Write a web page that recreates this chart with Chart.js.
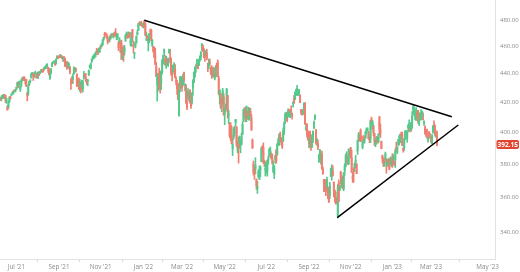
<!DOCTYPE html>
<html>
<head>
<meta charset="utf-8">
<script src="https://cdn.jsdelivr.net/npm/chart.js@4.4.1/dist/chart.umd.min.js"></script>
<style>
  html, body { margin: 0; padding: 0; background: #fff; }
  #wrap { width: 520px; height: 272px; }
</style>
</head>
<body>
<div id="wrap"><canvas id="spyChart" width="520" height="272"></canvas></div>
<script>
// ================= DATA =================
// daily candles, one per trading day, Jun 9 2021 .. Mar 9 2023 (x = bar index)

const opens = [
  423.2,422.9,424.2,424.4,425.4,424.6,421.7,417.1,416.8,420.9,423.2,424.9,425.9,427.2,427.9,427.2,
  428.9,431.7,433.8,433.7,428.8,432.5,435.4,436.2,437.4,436.0,436.0,426.2,425.7,432.3,434.7,437.5,439.3,439.9,439.7,439.8,437.9,
  440.3,438.4,439.8,440.2,442.1,442.5,443.1,443.8,443.6,445.6,444.5,444.2,442.9,436.3,440.2,445.2,447.9,448.2,448.6,447.1,450.9,452.1,
  452.6,453.3,451.9,452.7,450.9,450.7,451.0,448.6,448.1,444.6,446.3,444.9,434.9,436.5,436.1,439.9,441.4,442.8,439.7,435.2,436.0,
  430.9,433.0,430.2,429.3,437.0,439.5,437.2,435.7,434.7,439.1,444.8,443.97,448.9,451.1,451.8,453.1,454.3,457.4,456.5,455.5,455.9,
  460.3,460.2,461.3,465.4,469.3,469.7,469.0,465.6,465.2,465.1,468.6,467.2,469.0,469.2,470.0,470.9,467.2,466.1,462.3,464.1,462.0,
  461.6,450.7,459.2,456.1,464.4,468.7,468.2,469.2,470.2,463.1,463.4,472.6,461.6,454.5,460.0,462.8,468.8,472.1,477.7,476.9,477.9,475.6,
  476.3,479.2,477.2,467.9,467.9,462.7,465.2,471.6,472.2,461.2,459.7,458.1,453.8,445.6,432.0,433.1,440.7,438.3,432.7,441.2,
  450.7,455.5,450.9,446.0,449.5,446.7,455.2,451.3,449.4,439.9,443.7,443.9,443.2,435.0,431.9,432.7,411.0,429.6,432.0,
  435.0,432.4,440.5,431.8,431.6,419.6,425.1,422.5,428.1,420.9,419.8,429.9,433.6,438.0,444.3,445.9,446.9,445.9,451.2,452.1,460.0,460.3,458.0,
  453.3,453.1,455.2,446.9,445.6,447.97,444.1,443.1,438.0,443.6,436.8,437.9,446.9,448.5,436.9,423.7,425.8,417.2,422.3,423.6,
  412.1,415.0,417.1,424.6,411.1,405.1,404.5,398.1,389.4,396.7,399.98,406.5,403.5,388.6,393.3,392.8,392.6,392.3,398.7,407.9,413.6,
  415.2,409.4,412.4,414.8,408.1,413.9,409.3,394.9,379.9,376.9,377.0,370.5,365.5,371.9,370.6,376.6,381.4,391.1,390.2,381.2,376.2,
  376.6,375.9,382.1,385.1,385.0,385.9,383.6,375.1,373.6,382.6,388.4,386.1,392.5,394.2,398.9,396.5,393.8,394.4,401.9,407.6,
  409.2,409.1,410.3,414.4,409.7,415.3,412.2,418.8,422.99,422.0,424.8,429.0,424.8,425.5,424.98,415.0,412.9,412.9,415.2,419.4,402.2,405.1,399.9,
  392.9,400.3,393.1,390.4,395.3,402.7,408.8,401.8,394.5,392.96,381.2,382.3,382.3,386.1,376.6,370.6,366.4,367.8,364.4,366.0,361.8,
  361.1,372.4,373.2,375.6,368.97,363.96,358.2,358.2,349.2,368.6,364.0,375.1,367.8,368.0,365.1,375.9,378.8,381.6,383.1,379.9,386.4,
  390.1,383.9,372.4,377.0,377.7,381.1,379.9,388.1,395.6,396.7,401.2,396.6,390.5,397.7,394.6,396.6,399.6,401.8,399.1,396.1,395.5,
  408.8,402.3,403.9,399.4,392.9,395.1,393.9,394.1,410.2,401.6,394.3,385.2,383.5,379.2,383.3,383.0,379.7,382.8,381.6,379.6,380.6,
  384.4,383.2,381.7,382.6,390.4,387.3,392.2,396.7,393.6,398.5,399.0,389.4,390.1,396.7,398.9,395.9,403.1,402.8,402.9,401.1,
  405.2,414.9,411.6,409.8,408.9,413.1,414.4,405.9,408.7,411.2,410.4,408.8,406.1,403.1,399.5,401.6,395.4,399.9,397.2,
  395.4,392.7,399.7,405.0,404.4,398.4,399.7
];

const highs = [
  423.3,424.6,424.4,425.4,425.5,424.9,423.0,417.8,421.1,424.0,424.1,425.6,427.1,427.7,428.6,428.8,
  430.6,434.1,434.0,434.8,431.7,435.8,437.2,437.8,437.9,436.1,436.1,427.1,432.4,434.7,435.7,440.3,441.0,439.9,440.8,441.8,440.1,
  440.9,441.3,441.1,441.9,442.9,442.8,443.4,444.0,445.3,445.9,447.1,444.6,443.9,441.0,443.7,448.2,448.5,449.5,448.9,450.7,453.1,452.3,
  453.1,453.6,453.6,453.0,451.6,452.6,451.5,448.9,448.9,448.4,447.7,445.4,436.6,437.9,440.0,444.9,444.5,444.0,440.0,435.7,437.0,
  436.0,433.96,435.5,435.1,441.7,439.9,440.3,436.1,436.0,442.7,446.3,447.6,450.7,452.7,453.8,454.7,455.9,458.5,457.2,458.4,459.4,
  460.7,462.0,465.2,467.0,470.7,470.2,469.6,467.4,465.7,467.4,468.8,469.6,469.2,470.0,470.8,473.5,469.6,469.6,463.9,466.6,464.0,
  464.7,459.1,460.3,460.8,468.9,470.9,469.6,470.9,470.6,465.7,470.9,472.9,464.0,455.3,463.2,467.8,472.2,477.3,478.8,478.6,479.0,476.9,
  477.9,480.0,477.9,470.8,468.2,465.7,469.9,473.2,472.9,465.1,459.96,459.6,458.6,448.1,440.4,439.7,444.0,441.6,442.0,450.3,
  453.6,458.1,452.97,452.8,450.99,451.3,457.9,457.7,451.6,443.5,446.3,448.1,446.6,437.8,435.5,433.3,428.8,437.8,438.2,
  437.2,439.7,441.1,433.0,432.3,425.0,429.5,426.4,428.8,424.6,426.8,435.7,441.1,444.9,446.5,450.6,447.1,450.6,453.0,455.9,462.1,461.2,458.8,
  453.5,456.9,457.8,447.6,450.7,450.6,445.0,445.8,444.1,444.7,439.8,445.8,447.6,450.0,438.1,428.7,426.0,422.9,429.7,425.9,
  415.9,418.9,429.7,425.0,414.8,406.4,406.4,404.0,395.8,403.2,403.97,408.6,403.8,394.1,397.0,397.7,395.2,399.5,407.0,415.4,416.5,
  416.2,417.4,414.0,416.6,416.3,415.8,411.7,395.8,381.8,377.9,383.9,370.9,369.4,376.5,378.8,378.8,390.1,391.4,393.2,382.3,380.7,
  381.7,382.4,385.0,389.8,390.6,386.9,386.2,381.9,379.1,385.3,389.1,392.9,396.3,399.0,400.2,396.5,394.1,402.9,407.0,413.0,
  413.4,413.0,415.7,415.1,414.2,417.6,412.8,420.4,424.9,427.2,429.1,431.7,428.9,428.9,425.0,415.1,415.2,415.0,419.6,419.9,405.8,405.8,401.2,
  396.8,400.9,395.2,398.6,401.0,407.5,411.7,401.8,396.0,395.0,386.0,389.1,386.1,388.0,378.0,370.6,370.3,370.4,372.0,366.1,365.3,
  368.8,377.5,379.5,378.8,368.97,364.2,363.0,359.8,367.5,370.3,367.0,375.5,371.8,372.7,374.8,380.1,386.3,387.6,385.0,389.5,388.4,
  390.4,388.6,375.1,377.6,380.6,385.3,380.2,395.0,400.0,399.0,402.3,397.8,394.9,397.8,396.6,400.8,402.9,403.0,400.8,397.3,407.7,
  410.0,407.9,404.9,399.4,395.6,397.3,397.3,399.0,410.5,405.5,394.3,385.5,383.8,383.2,387.4,383.0,383.0,383.2,383.4,384.4,383.0,
  386.4,385.9,381.8,389.3,393.7,390.7,395.6,398.0,399.1,400.2,400.1,390.4,396.0,401.1,401.3,400.7,404.9,408.2,405.1,406.5,
  413.7,418.3,416.97,411.3,416.5,414.5,414.6,408.4,412.97,415.1,414.1,412.9,407.5,404.2,401.1,402.2,397.3,400.7,399.3,
  396.7,398.7,404.5,407.5,404.8,399.7,401.0
];

const lows = [
  421.4,421.0,422.8,422.5,423.1,419.9,419.3,414.7,415.9,419.9,422.4,424.6,425.6,425.6,427.2,427.2,
  428.8,430.5,430.0,431.8,427.5,430.7,434.8,435.3,434.9,432.7,430.9,421.0,424.8,431.6,433.5,436.8,438.9,435.2,437.2,439.8,436.8,
  436.9,436.6,438.9,440.1,441.3,441.0,441.1,442.6,443.4,445.0,443.7,440.9,439.1,436.1,439.8,445.2,447.5,447.7,446.2,446.9,450.7,450.9,
  451.5,451.8,451.6,450.7,448.8,448.9,445.3,444.9,443.0,444.1,443.4,439.9,428.9,432.9,433.1,439.6,441.0,441.2,430.9,431.3,428.8,
  427.5,426.4,429.4,427.0,436.1,437.3,434.7,432.3,431.5,438.7,444.1,443.3,448.1,450.1,451.0,451.3,452.4,455.2,453.8,455.3,455.5,
  458.2,459.5,460.8,464.5,466.3,468.2,465.9,461.8,463.3,463.3,465.3,466.4,467.7,466.3,467.7,467.4,464.9,465.2,456.8,461.7,455.3,
  450.3,450.4,448.9,453.6,463.6,466.8,466.0,466.8,466.4,460.4,460.0,463.7,455.3,451.0,458.8,462.3,468.5,472.0,476.1,475.9,475.9,474.7,
  473.9,474.7,468.3,464.4,464.3,456.6,462.6,468.6,463.9,459.7,455.6,451.5,446.6,437.9,420.8,427.9,428.9,426.4,428.8,439.8,
  446.9,453.2,446.0,443.8,445.9,445.3,455.0,447.9,438.9,434.8,441.2,439.6,437.0,432.0,425.4,421.8,410.6,427.1,430.7,
  427.7,431.3,433.8,427.9,419.4,415.1,422.8,420.8,419.5,415.8,418.8,425.0,433.6,437.4,441.0,445.8,443.5,445.8,448.9,450.0,456.9,456.1,451.6,
  448.9,452.3,450.0,441.4,443.5,445.9,439.4,436.6,437.8,437.7,435.6,437.7,443.7,437.8,425.4,418.8,416.0,413.7,418.8,411.2,
  405.0,413.9,415.6,409.4,405.7,396.5,394.8,392.6,385.2,395.6,397.6,404.0,390.6,386.96,380.5,390.2,386.9,391.8,398.4,407.0,410.0,
  406.9,407.0,408.6,408.6,407.9,410.4,401.4,389.8,373.3,370.6,374.0,364.6,362.2,371.9,370.6,372.2,381.4,387.0,380.4,378.4,372.6,
  374.3,372.5,379.8,385.0,383.9,382.9,379.7,374.8,371.0,380.3,380.5,385.3,391.6,391.6,393.7,392.0,389.6,394.2,398.7,405.8,
  408.2,406.9,410.1,412.4,409.6,411.4,408.7,416.7,419.2,421.9,424.7,426.8,424.8,425.4,419.8,411.8,411.4,411.6,414.9,405.3,401.2,396.9,395.0,
  390.1,390.0,388.4,390.3,393.3,402.4,408.1,392.4,391.6,388.9,381.1,382.1,379.8,376.7,373.6,363.3,363.4,360.9,363.8,359.2,357.0,
  359.2,372.3,370.1,372.6,360.2,357.1,355.9,356.3,348.1,357.3,364.0,367.6,365.7,364.8,363.8,373.1,378.2,381.4,379.7,379.7,385.3,
  383.5,374.8,368.8,368.8,375.2,377.7,374.0,385.9,394.1,394.4,394.0,394.8,389.4,393.2,393.0,396.1,399.2,401.1,395.6,393.3,393.4,
  404.7,401.9,397.9,391.6,390.8,392.3,393.3,393.1,398.3,396.6,389.5,381.0,378.4,378.5,382.9,374.3,378.4,379.2,376.4,379.4,378.5,
  377.8,380.0,378.8,377.8,387.7,386.4,391.4,391.9,393.3,396.3,391.5,387.3,388.4,395.3,397.6,393.6,400.3,402.5,400.3,400.8,
  402.6,412.9,411.1,408.1,407.6,409.9,405.8,404.4,408.3,408.0,409.4,408.1,404.5,398.8,397.0,396.3,393.6,396.9,396.2,
  393.4,392.6,399.6,404.4,397.6,396.8,391.3
];

const closes = [
  421.6,423.6,424.3,425.3,424.5,422.1,422.0,414.9,420.9,423.1,422.6,425.1,426.6,427.5,427.7,428.1,
  430.4,433.7,432.9,434.5,430.9,435.5,437.1,435.6,436.2,434.8,431.3,425.0,431.1,434.6,435.5,439.9,441.0,439.0,438.8,440.6,438.5,
  437.6,441.2,439.0,441.8,442.5,442.1,442.7,443.8,445.1,445.9,447.0,444.0,439.2,439.9,443.4,447.3,448.0,448.9,446.3,450.3,452.2,451.6,
  451.8,453.2,453.1,451.5,450.9,449.0,445.4,446.6,444.2,447.9,447.2,441.4,434.0,433.6,437.9,443.2,443.9,442.6,431.3,432.0,429.1,
  434.2,428.6,433.1,434.9,438.7,437.9,434.7,433.6,435.2,442.5,445.9,447.2,450.6,452.4,453.6,453.1,455.6,456.0,453.9,458.3,459.3,
  460.0,461.9,464.7,466.9,468.5,468.9,467.4,463.6,463.8,467.3,467.4,469.3,468.1,469.7,468.9,467.6,468.2,469.4,459.0,464.6,455.6,
  450.5,457.4,453.4,458.8,468.3,469.5,466.4,470.7,466.6,463.4,470.6,466.5,459.9,455.0,463.1,467.7,470.6,477.3,476.9,477.5,476.2,475.0,
  477.7,477.6,468.4,467.9,466.1,465.5,469.8,471.0,464.5,464.7,456.5,451.8,446.8,438.0,439.8,434.5,433.4,431.2,442.0,449.9,
  453.0,457.4,446.6,448.7,447.3,450.9,457.5,449.3,440.5,439.0,446.1,446.6,437.1,434.2,429.6,422.0,428.3,437.8,436.6,
  430.0,437.9,435.7,432.2,419.4,416.3,427.4,425.5,420.1,417.0,426.2,435.6,441.1,444.5,444.4,449.6,443.8,450.5,452.7,455.9,461.6,458.7,451.6,
  452.9,456.8,451.0,446.5,448.8,447.6,439.9,438.3,443.3,437.8,438.0,445.0,444.7,438.1,426.0,428.5,416.1,417.3,427.8,412.0,
  414.5,416.4,429.1,413.8,411.3,398.2,399.1,392.8,392.3,401.7,400.1,408.3,391.9,389.5,389.6,396.9,393.9,397.4,405.3,415.3,412.9,
  409.6,417.4,410.5,411.8,415.7,411.2,401.4,389.8,375.0,373.9,379.2,366.7,365.9,375.1,374.4,378.1,390.1,388.6,380.7,380.3,377.3,
  381.2,382.0,383.3,389.0,388.7,384.2,380.8,378.8,377.9,385.1,382.0,392.3,394.8,398.8,395.1,395.6,390.9,401.0,406.1,412.0,
  410.8,408.1,414.5,414.2,413.5,413.0,411.4,420.0,420.0,427.1,428.9,429.7,426.7,427.9,420.0,413.4,412.4,413.7,419.5,405.3,402.6,398.2,395.2,
  396.4,392.2,390.8,397.8,400.4,406.6,411.0,393.1,394.6,390.1,385.6,388.6,384.1,377.4,374.2,368.0,364.3,363.4,370.5,362.8,357.2,
  366.6,377.1,377.0,373.2,362.8,360.0,357.7,356.6,366.0,357.6,366.8,371.1,368.5,365.4,374.3,378.9,384.9,382.0,380.0,389.0,386.2,
  384.5,374.9,371.0,376.4,380.0,382.0,374.1,394.7,398.5,395.1,398.5,395.5,394.2,396.0,394.6,400.2,402.4,402.3,395.9,395.2,407.7,
  407.4,406.9,399.6,393.8,393.2,396.2,393.3,399.0,402.0,399.4,389.6,383.3,380.0,380.5,386.2,380.7,382.9,381.4,376.7,383.4,382.4,
  380.8,383.8,379.4,388.1,387.9,390.6,395.5,397.0,398.5,397.8,391.5,388.6,395.9,400.6,400.2,400.4,404.8,405.7,400.6,406.5,
  410.8,416.8,412.4,409.8,415.2,410.7,407.1,408.0,412.8,412.6,414.0,408.3,407.3,399.1,398.5,400.7,396.4,397.7,396.3,
  394.7,397.8,404.2,404.5,398.3,399.0,392.15
];

// month ticks (bar index of first trading day of the month)
const xTickIdx = [16, 59, 101, 144, 183, 226, 268, 311, 353, 395, 434, 491];
const xTickLabels = ["Jul '21", "Sep '21", "Nov '21", "Jan '22", "Mar '22", "May '22",
                     "Jul '22", "Sep '22", "Nov '22", "Jan '23", "Mar '23", "May '23"];
const yTicks = [340, 360, 380, 400, 420, 440, 460, 480];

// hand drawn triangle (bar index, price)
const upperLine = [{ x: 145, y: 480.0 }, { x: 455, y: 410.3 }];
const lowerLine = [{ x: 339.5, y: 348.2 }, { x: 461.5, y: 404.8 }];

// ================= CHART =================

const UP = "#55c98b";
const DOWN = "#f07f70";
const candleColors = closes.map((c, i) => (c >= opens[i] ? UP : DOWN));

const wickData = highs.map((h, i) => ({ x: i, y: [lows[i], h] }));
const bodyData = closes.map((c, i) => ({ x: i, y: [opens[i], c] }));

const lastPriceTag = {
  id: "lastPriceTag",
  afterDraw(chart) {
    const { ctx, chartArea, scales } = chart;
    const v = closes[closes.length - 1];
    const py = scales.y.getPixelForValue(v);
    const x0 = chartArea.right + 1.5;
    const w = 22.5, h = 9;
    ctx.save();
    ctx.fillStyle = "#e4432d";
    ctx.beginPath();
    ctx.roundRect(x0, py - h / 2, w, h, 2);
    ctx.fill();
    ctx.fillStyle = "#fff";
    ctx.font = "bold 6.5px 'Open Sans'";
    ctx.textAlign = "center";
    ctx.textBaseline = "middle";
    ctx.fillText(v.toFixed(2), x0 + w / 2, py + 0.5);
    ctx.restore();
  }
};

new Chart(document.getElementById("spyChart"), {
  type: "bar",
  data: {
    datasets: [
      {
        type: "bar",
        data: wickData,
        backgroundColor: candleColors,
        barThickness: 1,
        grouped: false,
        order: 3
      },
      {
        type: "bar",
        data: bodyData,
        backgroundColor: candleColors,
        barThickness: 1.3,
        minBarLength: 1,
        grouped: false,
        order: 2
      },
      {
        type: "line",
        data: upperLine,
        borderColor: "#000",
        borderWidth: 1.5,
        pointRadius: 0,
        order: 1
      },
      {
        type: "line",
        data: lowerLine,
        borderColor: "#000",
        borderWidth: 1.5,
        pointRadius: 0,
        order: 1
      }
    ]
  },
  options: {
    responsive: false,
    animation: false,
    layout: { padding: 0 },
    plugins: { legend: { display: false }, tooltip: { enabled: false } },
    scales: {
      x: {
        type: "linear",
        min: -0.5,
        max: 498.5,
        offset: false,
        grid: { display: true, drawOnChartArea: false, tickLength: 3, color: "#d8d8d8" },
        border: { display: true, color: "#e2e2e2" },
        afterBuildTicks: (s) => { s.ticks = xTickIdx.map(v => ({ value: v })); },
        afterFit: (s) => { s.height = 13; s.paddingLeft = 0; s.paddingRight = 0; },
        ticks: {
          autoSkip: false,
          maxRotation: 0,
          padding: 1,
          color: "#8a8a8a",
          font: { family: "'Open Sans'", size: 6.3 },
          callback: (v) => xTickLabels[xTickIdx.indexOf(v)]
        }
      },
      y: {
        type: "logarithmic",
        position: "right",
        min: 325.6,
        max: 496,
        grid: { display: false, drawTicks: false },
        border: { display: true, color: "#e2e2e2" },
        afterBuildTicks: (s) => { s.ticks = yTicks.map(v => ({ value: v })); },
        afterFit: (s) => { s.width = 25; s.paddingTop = 0; s.paddingBottom = 0; },
        ticks: {
          padding: 5,
          color: "#8a8a8a",
          font: { family: "'Open Sans'", size: 6 },
          callback: (v) => Number(v).toFixed(2)
        }
      }
    }
  },
  plugins: [lastPriceTag]
});
</script>
</body>
</html>
